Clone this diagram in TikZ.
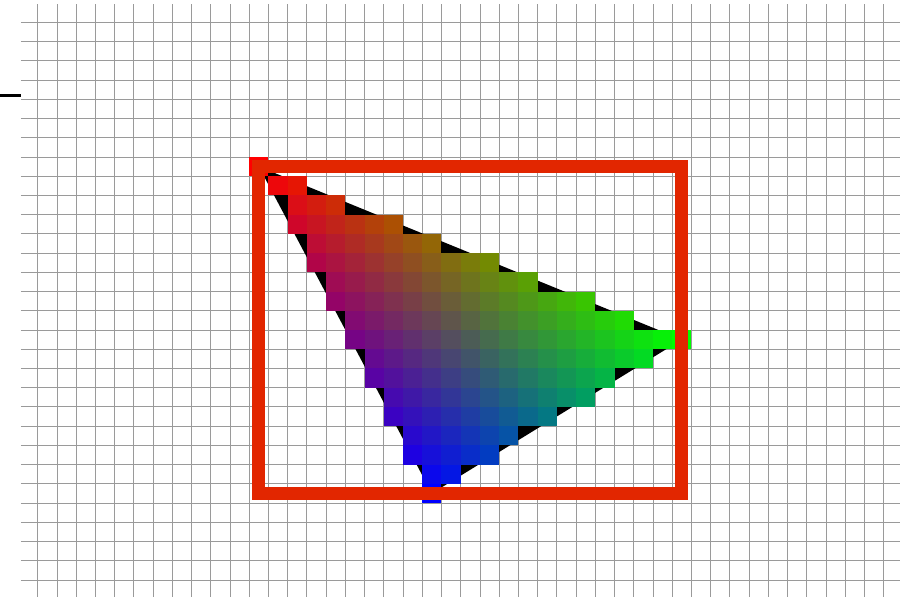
\documentclass[tikz,border=0pt]{standalone}
\definecolor{ink}{HTML}{000000}
\definecolor{gridgray}{HTML}{9A9A9A}
\definecolor{boxred}{HTML}{E22600}

\begin{document}
\begin{tikzpicture}[
  x=0.5cm,
  y=-0.5cm,
  gridline/.style={gridgray,line width=0.6pt},
  boxline/.style={boxred,line width=9.6pt,line join=miter}
]
  \useasboundingbox (-1.961,-1.161) rectangle (45.94,29.88);

  % triangle corners sit on pixel centres
  \coordinate (A) at (11.5,7.5);
  \coordinate (B) at (33.5,16.5);
  \coordinate (C) at (20.5,24.5);

  % pixel grid
  \foreach \i in {0,...,44}
    \draw[gridline] (\i,-0.95) -- (\i,29.9);
  \foreach \j in {0,...,29}
    \draw[gridline] (-0.87,\j) -- (44.85,\j);

  \draw[ink,line width=2pt] (-2.1,3.79) -- (-0.87,3.79);

  \fill[ink] (A)--(B)--(C)--cycle;

  % covered pixels, coloured by barycentric weights
  \foreach \row in {7,...,24}{
    \foreach \col in {11,...,33}{
      \pgfmathsetmacro{\la}{(-8*(\col+0.5-20.5)-13*(\row+0.5-24.5))/293}
      \pgfmathsetmacro{\lb}{(17*(\col+0.5-20.5)-9*(\row+0.5-24.5))/293}
      \pgfmathsetmacro{\lc}{1-\la-\lb}
      \pgfmathtruncatemacro{\inside}{min(\la,\lb,\lc)>-0.001 ? 1 : 0}
      \ifnum\inside=1
        \pgfmathsetmacro{\ra}{min(1,max(0,\la))}
        \pgfmathsetmacro{\rb}{min(1,max(0,\lb))}
        \pgfmathsetmacro{\rc}{min(1,max(0,\lc))}
        \definecolor{cellfill}{rgb}{\ra,\rb,\rc}
        \fill[cellfill] (\col,\row) rectangle ++(1,1);
      \fi
    }
  }

  \draw[boxline] (A) rectangle (33.5,24.5);
\end{tikzpicture}
\end{document}
